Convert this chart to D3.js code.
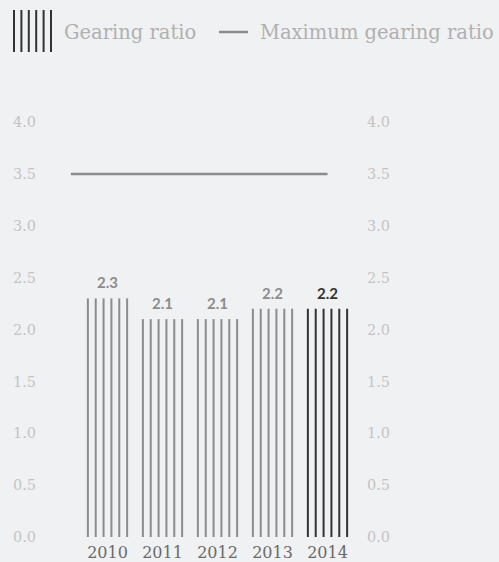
<!DOCTYPE html>
<html lang="en">
<head>
<meta charset="UTF-8">
<title>Gearing ratio</title>
<script src="https://d3js.org/d3.v7.min.js"></script>
<style>
  body { margin: 0; background: #f0f1f3; }
  svg { display: block; }
</style>
</head>
<body>
<script>
    const width = 499
    const height = 562
    const slab = "'DejaVu Serif', serif"

    // data
    const years = ["2010", "2011", "2012", "2013", "2014"]
    const gearing = [2.3, 2.1, 2.1, 2.2, 2.2]
    const maxGearing = 3.5
    const yTicks = [0, 0.5, 1, 1.5, 2, 2.5, 3, 3.5, 4]

    let svg = d3.select("body").append("svg")
        .attr("width", width)
        .attr("height", height)

    const x = d3.scaleBand()
        .domain(years)
        .range([80, 355])
        .paddingInner(0.25)
        .paddingOuter(0.125)

    const y = d3.scaleLinear()
        .domain([0, 4])
        .range([537, 122])

    const fmt = d3.format(".1f")
    const stripes = d3.range(6)

    // axes on both sides, labels only
    const leftAxis = d3.axisLeft(y).tickValues(yTicks).tickFormat(fmt).tickSize(0)
    const rightAxis = d3.axisRight(y).tickValues(yTicks).tickFormat(fmt).tickSize(0)

    const gl = svg.append("g").attr("transform", "translate(39,0)").call(leftAxis)
    const gr = svg.append("g").attr("transform", "translate(364,0)").call(rightAxis)
    ;[gl, gr].forEach(g => {
        g.select(".domain").remove()
        g.selectAll("text")
            .attr("dx", 0)
            .attr("fill", "#c4c4c4")
            .attr("font-size", 14.5)
            .attr("font-family", slab)
    })

    // striped bars
    const colorOf = (d, i) => i === years.length - 1 ? "#333333" : "#8c8c8c"
    const bw = x.bandwidth()

    const bars = svg.selectAll(".bar")
        .data(gearing)
        .enter()
        .append("g")
        .attr("class", "bar")
        .attr("transform", (d, i) => `translate(${x(years[i])},0)`)

    bars.each(function(d, i) {
        d3.select(this).selectAll("rect")
            .data(stripes)
            .enter()
            .append("rect")
            .attr("x", s => s * (bw - 2) / 5)
            .attr("y", y(d))
            .attr("width", 2)
            .attr("height", y(0) - y(d))
            .attr("fill", colorOf(d, i))
    })

    bars.append("text")
        .attr("x", bw / 2)
        .attr("y", d => y(d) - 10)
        .attr("text-anchor", "middle")
        .attr("font-family", "Lato, sans-serif")
        .attr("font-size", 15)
        .attr("font-weight", 700)
        .attr("fill", colorOf)
        .text(d => fmt(d))

    // year labels
    svg.selectAll(".year")
        .data(years)
        .enter()
        .append("text")
        .attr("class", "year")
        .attr("x", d => x(d) + bw / 2)
        .attr("y", 558)
        .attr("text-anchor", "middle")
        .attr("font-family", slab)
        .attr("font-size", 16)
        .attr("fill", "#6a6a6a")
        .text(d => d)

    // maximum gearing line
    svg.append("line")
        .attr("x1", x(years[0]) - 16)
        .attr("x2", x(years[years.length - 1]) + bw / 2)
        .attr("y1", y(maxGearing))
        .attr("y2", y(maxGearing))
        .attr("stroke", "#8c8c8c")
        .attr("stroke-width", 2.5)

    // legend
    const legend = svg.append("g")
    legend.selectAll("rect")
        .data(stripes)
        .enter()
        .append("rect")
        .attr("x", s => 13 + s * 7.4)
        .attr("y", 10)
        .attr("width", 2)
        .attr("height", 42)
        .attr("fill", "#333333")
    legend.append("text")
        .attr("x", 64).attr("y", 39)
        .attr("font-family", slab)
        .attr("font-size", 19.5)
        .attr("fill", "#b0b0b0")
        .text("Gearing ratio")
    legend.append("line")
        .attr("x1", 219).attr("x2", 248)
        .attr("y1", 32).attr("y2", 32)
        .attr("stroke", "#8c8c8c")
        .attr("stroke-width", 2.5)
    legend.append("text")
        .attr("x", 260).attr("y", 39)
        .attr("font-family", slab)
        .attr("font-size", 19.5)
        .attr("fill", "#b0b0b0")
        .text("Maximum gearing ratio")
</script>
</body>
</html>
